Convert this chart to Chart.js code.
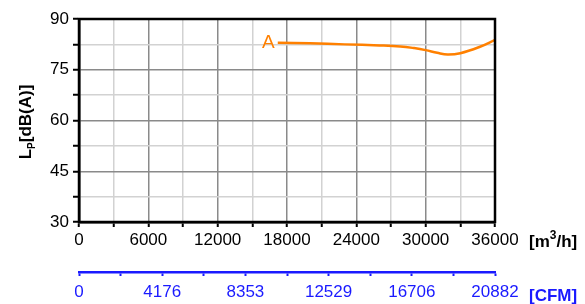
<!DOCTYPE html>
<html>
<head>
<meta charset="utf-8">
<script src="https://cdn.jsdelivr.net/npm/chart.js@4"></script>
<style>
  html, body { margin: 0; padding: 0; background: #fff; }
  #wrap { width: 585px; height: 304px; }
</style>
</head>
<body>
<div id="wrap"><canvas id="chart"></canvas></div>
<script>
// airflow [m3/h] and sound pressure level [dB(A)]
const flowM3h = [17200, 20000, 23000, 26000, 27800, 29000, 30000, 31000, 31900, 33000, 34700, 36000];
const levelA  = [83.0, 82.8, 82.5, 82.2, 81.9, 81.4, 80.8, 80.0, 79.5, 79.9, 81.8, 83.8];

// secondary axis in CFM
const cfmTicks  = [0, 2088, 4176, 6265, 8353, 10441, 12529, 14618, 16706, 18794, 20882];
const cfmLabels = ['0', '4176', '8353', '12529', '16706', '20882'];

const FONT = 'Liberation Sans, Arial, sans-serif';
const ORANGE = '#ff8000';
const BLUE = '#1a1aff';

const gridColor = ctx => (ctx.tick && ctx.tick.major) ? '#8a8a8a' : '#d2d2d2';

// extra texts: axis titles, units, curve label, frame
const decor = {
  id: 'decor',
  afterDraw(chart) {
    const c = chart.ctx;
    const a = chart.chartArea;
    const xs = chart.scales.x, ys = chart.scales.y;
    c.save();
    // frame
    c.strokeStyle = '#000';
    c.lineWidth = 2.5;
    c.strokeRect(a.left, a.top, a.right - a.left, a.bottom - a.top);

    // curve label
    c.fillStyle = ORANGE;
    c.font = '19px ' + FONT;
    c.textAlign = 'right';
    c.textBaseline = 'middle';
    c.fillText('A', xs.getPixelForValue(flowM3h[0]) - 3, ys.getPixelForValue(levelA[0]));

    // y title
    c.save();
    c.translate(31, 122);
    c.rotate(-Math.PI / 2);
    c.fillStyle = '#000';
    c.textBaseline = 'alphabetic';
    c.textAlign = 'left';
    c.font = 'bold 17px ' + FONT;
    const wL = c.measureText('L').width;
    const wRest = c.measureText('[dB(A)]').width;
    c.font = 'bold 10px ' + FONT;
    const wP = c.measureText('P').width;
    let x0 = -(wL + wP + wRest) / 2;
    c.font = 'bold 17px ' + FONT;
    c.fillText('L', x0, 0);
    c.font = 'bold 10px ' + FONT;
    c.fillText('P', x0 + wL, 4);
    c.font = 'bold 17px ' + FONT;
    c.fillText('[dB(A)]', x0 + wL + wP, 0);
    c.restore();

    // units
    c.textAlign = 'left';
    c.textBaseline = 'alphabetic';
    c.fillStyle = '#000';
    c.font = 'bold 17px ' + FONT;
    let ux = 529;
    c.fillText('[m', ux, 247);
    ux += c.measureText('[m').width;
    c.font = 'bold 12px ' + FONT;
    c.fillText('3', ux, 239);
    ux += c.measureText('3').width;
    c.font = 'bold 17px ' + FONT;
    c.fillText('/h]', ux, 247);

    c.fillStyle = BLUE;
    c.fillText('[CFM]', 529, 301);
    c.restore();
  }
};

new Chart(document.getElementById('chart'), {
  type: 'line',
  data: {
    datasets: [{
      label: 'A',
      data: flowM3h.map((v, i) => ({ x: v, y: levelA[i] })),
      borderColor: ORANGE,
      borderWidth: 2.5,
      pointRadius: 0,
      tension: 0.4,
      xAxisID: 'x',
      yAxisID: 'y'
    }]
  },
  options: {
    responsive: true,
    maintainAspectRatio: false,
    animation: false,
    layout: { padding: { left: 0, right: 90, top: 19, bottom: 0 } },
    plugins: { legend: { display: false }, tooltip: { enabled: false } },
    scales: {
      x: {
        type: 'linear',
        position: 'bottom',
        weight: 0,
        min: 0, max: 36000,
        afterBuildTicks: s => {
          s.ticks = [];
          for (let v = 0; v <= 36000; v += 3000) s.ticks.push({ value: v, major: v % 6000 === 0 });
        },
        afterFit: s => { s.height = 50; },
        grid: { color: gridColor, lineWidth: 1.5, tickColor: '#000', tickLength: 5, tickWidth: 2 },
        border: { display: true, color: '#000', width: 2.5 },
        ticks: {
          autoSkip: false, maxRotation: 0, padding: 3,
          color: '#000', font: { family: FONT, size: 17 },
          callback: v => (v % 6000 === 0 ? String(v) : '')
        }
      },
      cfm: {
        type: 'linear',
        position: 'bottom',
        weight: 1,
        min: 0, max: 20882,
        afterBuildTicks: s => { s.ticks = cfmTicks.map(v => ({ value: v })); },
        afterFit: s => { s.height = 32; },
        grid: { drawOnChartArea: false, color: BLUE, tickColor: BLUE, tickLength: 4, tickWidth: 2 },
        border: { display: true, color: BLUE, width: 2.5 },
        ticks: {
          autoSkip: false, maxRotation: 0, padding: 6,
          color: BLUE, font: { family: FONT, size: 17 },
          callback: (v, i) => (i % 2 === 0 ? cfmLabels[i / 2] : '')
        }
      },
      y: {
        type: 'linear',
        min: 30, max: 90,
        afterBuildTicks: s => {
          s.ticks = [];
          for (let v = 30; v <= 90; v += 7.5) s.ticks.push({ value: v, major: v % 15 === 0 });
        },
        afterFit: s => { s.width = 79; },
        grid: { color: gridColor, lineWidth: 1.5, tickColor: '#000', tickLength: 6, tickWidth: 2 },
        border: { display: true, color: '#000', width: 2.5 },
        ticks: {
          autoSkip: false, padding: 4,
          color: '#000', font: { family: FONT, size: 17 },
          callback: v => (v % 15 === 0 ? String(v) : '')
        }
      }
    }
  },
  plugins: [decor]
});
</script>
</body>
</html>
